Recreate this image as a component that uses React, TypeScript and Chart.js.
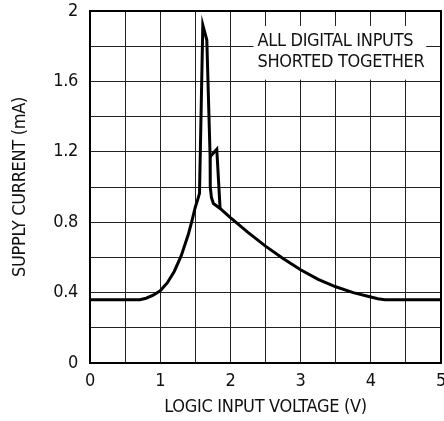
import React, { useEffect, useRef } from 'react';
import { Chart, registerables } from 'chart.js';

Chart.register(...registerables);

// Main trace (logic input voltage V, supply current mA)
const mainX = [0, 0.71, 0.8, 0.9, 1.0, 1.1, 1.2, 1.3, 1.4, 1.45, 1.5, 1.535, 1.56, 1.607, 1.664, 1.711, 1.713, 1.73, 1.758, 1.853, 2.0, 2.25, 2.5, 2.75, 3.0, 3.25, 3.5, 3.75, 4.0, 4.1, 4.2, 5];
const mainY = [0.36, 0.36, 0.368, 0.385, 0.41, 0.455, 0.52, 0.61, 0.73, 0.805, 0.885, 0.93, 0.964, 1.92, 1.835, 1.172, 1.0, 0.94, 0.906, 0.878, 0.826, 0.742, 0.664, 0.594, 0.53, 0.475, 0.433, 0.4, 0.375, 0.365, 0.36, 0.36];

// Side branch of the trace
const branchX = [1.711, 1.806, 1.853];
const branchY = [1.172, 1.215, 0.878];

const xMin = 0;
const xMax = 5;
const xStep = 0.5;
const yMin = 0;
const yMax = 2;
const yStep = 0.2;

const xTitle = 'LOGIC INPUT VOLTAGE (V)';
const yTitle = 'SUPPLY CURRENT (mA)';
const noteLines = ['ALL DIGITAL INPUTS', 'SHORTED TOGETHER'];
// note box extents in data units
const noteBoxX = [2.33, 4.79];
const noteBoxY = [1.915, 1.61];
const noteTextX = 2.385;
const noteTextY = [1.83, 1.71];

const FONT = '"Liberation Sans Narrow", "Arial Narrow", "DejaVu Sans Condensed", sans-serif';
const FS = 18;
const SPACING = '-0.3px';

const isMultiple = (v: number, m: number) => Math.abs(v / m - Math.round(v / m)) < 1e-6;

export default function App() {
  const ref = useRef<HTMLCanvasElement | null>(null);

  useEffect(() => {
    document.body.style.margin = '0';
    const canvas = ref.current;
    if (!canvas) return;

    const spacingPlugin = {
      id: 'spacingPlugin',
      beforeUpdate(chart: any) { chart.ctx.letterSpacing = SPACING; },
      beforeLayout(chart: any) { chart.ctx.letterSpacing = SPACING; },
      beforeDraw(chart: any) { chart.ctx.letterSpacing = SPACING; },
    };

    const notePlugin = {
      id: 'notePlugin',
      afterDatasetsDraw(chart: any) {
        const { ctx, chartArea, scales } = chart;
        const xs = scales.x;
        const ys = scales.y;
        ctx.save();
        const x0 = xs.getPixelForValue(noteBoxX[0]);
        const x1 = xs.getPixelForValue(noteBoxX[1]);
        const y0 = ys.getPixelForValue(noteBoxY[0]);
        const y1 = ys.getPixelForValue(noteBoxY[1]);
        ctx.fillStyle = '#ffffff';
        ctx.fillRect(x0, y0, x1 - x0, y1 - y0);
        ctx.fillStyle = '#111';
        ctx.font = `${FS}px ${FONT}`;
        ctx.textAlign = 'left';
        ctx.textBaseline = 'middle';
        noteLines.forEach((t, i) => {
          ctx.fillText(t, xs.getPixelForValue(noteTextX), ys.getPixelForValue(noteTextY[i]));
        });
        ctx.strokeStyle = '#000';
        ctx.lineWidth = 2;
        ctx.strokeRect(chartArea.left, chartArea.top, chartArea.right - chartArea.left, chartArea.bottom - chartArea.top);
        ctx.restore();
      },
    };

    const chart = new Chart(canvas, {
      type: 'line',
      data: {
        datasets: [
          {
            data: mainX.map((x, i) => ({ x, y: mainY[i] })),
            borderColor: '#000',
            borderWidth: 3,
            pointRadius: 0,
            fill: false,
            tension: 0,
          },
          {
            data: branchX.map((x, i) => ({ x, y: branchY[i] })),
            borderColor: '#000',
            borderWidth: 3,
            pointRadius: 0,
            fill: false,
            tension: 0,
          },
        ],
      },
      options: {
        animation: false,
        responsive: false,
        maintainAspectRatio: false,
        layout: { padding: { top: 11, right: 11, left: 0, bottom: 0 } },
        plugins: {
          legend: { display: false },
          tooltip: { enabled: false },
        },
        scales: {
          x: {
            type: 'linear',
            min: xMin,
            max: xMax,
            afterFit: (s: any) => {
              s.height = 58;
              s.paddingLeft = 0;
              s.paddingRight = 0;
              s.paddingTop = 0;
              s.paddingBottom = 0;
            },
            ticks: {
              stepSize: xStep,
              autoSkip: false,
              maxRotation: 0,
              padding: 8,
              color: '#111',
              font: { family: FONT, size: FS },
              callback: (v: any) => (isMultiple(Number(v), 1) ? String(Math.round(Number(v))) : ''),
            },
            grid: { color: '#222', lineWidth: 1, drawTicks: false },
            border: { color: '#000', width: 2 },
            title: {
              display: true,
              text: xTitle,
              color: '#111',
              font: { family: FONT, size: FS },
              padding: { top: 0, bottom: 3 },
            },
          },
          y: {
            type: 'linear',
            min: yMin,
            max: yMax,
            afterFit: (s: any) => {
              s.width = 90;
              s.paddingLeft = 0;
              s.paddingRight = 0;
              s.paddingTop = 0;
              s.paddingBottom = 0;
            },
            ticks: {
              stepSize: yStep,
              autoSkip: false,
              padding: 12,
              color: '#111',
              font: { family: FONT, size: FS },
              callback: (v: any) => {
                const n = Number(v);
                if (!isMultiple(n, 0.4)) return '';
                return n === 0 ? '0' : String(Number(n.toFixed(1)));
              },
            },
            grid: { color: '#222', lineWidth: 1, drawTicks: false },
            border: { color: '#000', width: 2 },
            title: {
              display: true,
              text: yTitle,
              color: '#111',
              font: { family: FONT, size: FS },
              padding: { top: 10, bottom: 0 },
            },
          },
        },
      },
      plugins: [spacingPlugin, notePlugin],
    });

    return () => chart.destroy();
  }, []);

  return (
    <div style={{ width: 444, height: 421, overflow: 'hidden', position: 'relative' }}>
      <canvas ref={ref} width={452} height={421} style={{ width: 452, height: 421, display: 'block' }} />
    </div>
  );
}
